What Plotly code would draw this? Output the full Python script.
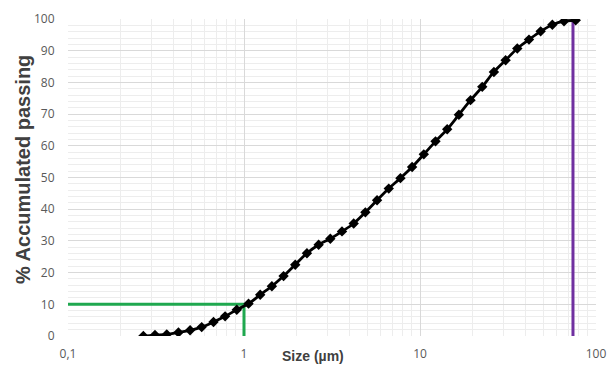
import plotly.graph_objects as go

size_um = [0.268, 0.312, 0.364, 0.424, 0.494, 0.575, 0.671, 0.781, 0.910, 1.061,
           1.236, 1.440, 1.678, 1.955, 2.278, 2.655, 3.093, 3.604, 4.200, 4.893,
           5.702, 6.644, 7.741, 9.020, 10.51, 12.25, 14.27, 16.63, 19.37, 22.58,
           26.30, 30.65, 35.71, 41.61, 48.48, 56.49, 65.82, 76.70]
passing = [0, 0.3, 0.5, 1.1, 1.8, 2.8, 4.4, 6.2, 8.3, 10.2,
           13.0, 15.7, 18.9, 22.5, 26.1, 28.8, 30.7, 33.0, 35.5, 39.0,
           42.8, 46.5, 49.8, 53.3, 57.3, 61.4, 65.2, 69.8, 74.4, 78.6,
           83.3, 87.0, 90.7, 93.5, 96.1, 98.2, 99.3, 99.6]

d10_x = [0.1, 1, 1]
d10_y = [10, 10, 0]
dmax_x = [74, 74]
dmax_y = [0, 100]

x_tickvals = [0.1, 1, 10, 100]
x_ticktext = ["0,1", "1", "10", "100"]
x_minor = [m * 10 ** e for e in (-1, 0, 1) for m in range(2, 10)]

fig = go.Figure()
fig.add_trace(go.Scatter(x=d10_x, y=d10_y, mode="lines",
                         line=dict(color="#1fa84f", width=3), hoverinfo="skip"))
fig.add_trace(go.Scatter(x=dmax_x, y=dmax_y, mode="lines",
                         line=dict(color="#7030a0", width=3), hoverinfo="skip"))
fig.add_trace(go.Scatter(x=size_um, y=passing, mode="lines+markers",
                         line=dict(color="black", width=2.8, shape="spline"),
                         marker=dict(symbol="diamond", size=8, color="black")))

fig.update_layout(
    width=613, height=365,
    margin=dict(l=68, r=17, t=19, b=29),
    paper_bgcolor="white", plot_bgcolor="white",
    showlegend=False,
    font=dict(family="Open Sans", color="#595959", size=12),
    xaxis=dict(type="log", range=[-1, 2], tickvals=x_tickvals, ticktext=x_ticktext,
               automargin=False,
               showgrid=True, gridcolor="#d9d9d9", gridwidth=1,
               minor=dict(tickvals=x_minor, showgrid=True, gridcolor="#ededed", ticks=""),
               zeroline=False, showline=False, ticks="outside", ticklen=7,
               tickcolor="rgba(0,0,0,0)",
               tickfont=dict(size=12, color="#595959")),
    yaxis=dict(range=[0, 100], dtick=10, showgrid=True, gridcolor="#d9d9d9",
               automargin=False,
               minor=dict(dtick=2, showgrid=True, gridcolor="#ededed", ticks=""),
               zeroline=False, showline=False, ticks="outside", ticklen=10,
               tickcolor="rgba(0,0,0,0)",
               tickfont=dict(size=12, color="#595959")),
)
fig.add_annotation(x=(313 - 68) / 528, y=0, xref="paper", yref="paper", yshift=-20,
                   xanchor="center", yanchor="middle",
                   text="<b>Size (µm)</b>", showarrow=False,
                   font=dict(size=14, color="#404040", family="Liberation Sans"))
fig.add_annotation(x=(23 - 68) / 528, y=(336 - 170) / 317, xref="paper", yref="paper",
                   xanchor="center", yanchor="middle",
                   textangle=-90, text="<b>% Accumulated passing</b>", showarrow=False,
                   font=dict(size=20, color="#404040", family="Liberation Sans"))

fig.write_html("out.html", config={"displayModeBar": False},
               post_script="document.body.style.margin='0px';")
